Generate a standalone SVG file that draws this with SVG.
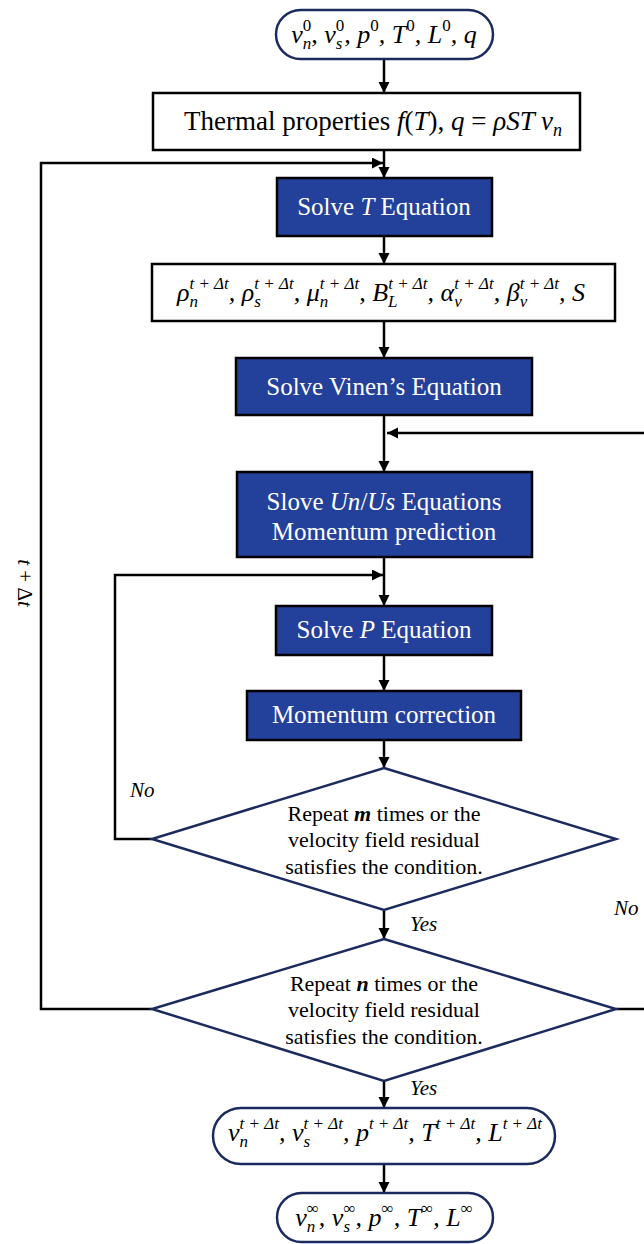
<svg xmlns="http://www.w3.org/2000/svg" width="644" height="1244" viewBox="0 0 644 1244">
<style>
.term{fill:#fff;stroke:#1c2b5e;stroke-width:2.5}
.wbox{fill:#fff;stroke:#000;stroke-width:2.5}
.bbox{fill:#23409a;stroke:#000;stroke-width:2.5}
.dia{fill:#fff;stroke:#1c2b5e;stroke-width:2.5}
.con{fill:none;stroke:#000;stroke-width:2.5}
.m{font-family:"Liberation Serif","DejaVu Serif",serif;font-style:italic;font-size:26px;fill:#000}
.sc{font-size:17px}
.up{font-style:normal}
.bt{font-family:"Liberation Serif","DejaVu Serif",serif;font-size:25px;fill:#fff}
.wt{font-family:"Liberation Serif","DejaVu Serif",serif;font-size:27px;fill:#000}
.dt{font-family:"Liberation Serif","DejaVu Serif",serif;font-size:22px;fill:#000}
.i{font-style:italic}
.lbl{font-family:"Liberation Serif","DejaVu Serif",serif;font-style:italic;font-size:21px;fill:#000}
</style>
<defs>
<marker id="ah" markerUnits="userSpaceOnUse" markerWidth="12" markerHeight="12" refX="11" refY="5.5" orient="auto">
<path d="M0,0 L11,5.5 L0,11 z" fill="#000"/>
</marker>
</defs>

<g id="connectors">
<path class="con" d="M384,60 V93" marker-end="url(#ah)"/>
<path class="con" d="M384,150 V178" marker-end="url(#ah)"/>
<path class="con" d="M384,236 V264" marker-end="url(#ah)"/>
<path class="con" d="M384,321 V358" marker-end="url(#ah)"/>
<path class="con" d="M384,415 V472" marker-end="url(#ah)"/>
<path class="con" d="M384,557 V606" marker-end="url(#ah)"/>
<path class="con" d="M384,655 V691" marker-end="url(#ah)"/>
<path class="con" d="M384,740 V768" marker-end="url(#ah)"/>
<path class="con" d="M384,910 V939" marker-end="url(#ah)"/>
<path class="con" d="M384,1081 V1108" marker-end="url(#ah)"/>
<path class="con" d="M384,1164 V1193" marker-end="url(#ah)"/>
<path class="con" d="M152,839 H115 V575 H383" marker-end="url(#ah)"/>
<path class="con" d="M152,1009 H41 V163 H383" marker-end="url(#ah)"/>
<path class="con" d="M616,1009 H660 V433 H387" marker-end="url(#ah)"/>
<text class="lbl" x="130" y="797">No</text>
<text class="lbl" x="614" y="915">No</text>
<text class="lbl" x="410" y="931">Yes</text>
<text class="lbl" x="410" y="1095">Yes</text>
<text class="lbl" text-anchor="middle" transform="translate(18,583) rotate(90)">t <tspan class="up">+ Δ</tspan>t</text>
</g>

<g id="start">
<rect class="term" x="276" y="10" width="217" height="49" rx="24.5"/>
<text class="m" x="384" y="43" text-anchor="middle">v<tspan class="sc" dy="6">n</tspan><tspan class="sc up" dx="-8.5" dy="-18">0</tspan><tspan dy="12">, v</tspan><tspan class="sc" dy="6">s</tspan><tspan class="sc up" dx="-6.6" dy="-18">0</tspan><tspan dy="12">, p</tspan><tspan class="sc up" dy="-12">0</tspan><tspan dy="12">, T</tspan><tspan class="sc up" dy="-12">0</tspan><tspan dy="12">, L</tspan><tspan class="sc up" dy="-12">0</tspan><tspan dy="12">, q</tspan></text>
</g>

<g id="thermal">
<rect class="wbox" x="153" y="93" width="427" height="57"/>
<text class="wt" x="373" y="130" text-anchor="middle">Thermal properties <tspan class="i">f</tspan>(<tspan class="i">T</tspan>), <tspan class="i">q</tspan> = <tspan class="i">ρST v</tspan><tspan class="i" font-size="18" dy="6">n</tspan></text>
</g>

<g id="solveT">
<rect class="bbox" x="277" y="178" width="215" height="58"/>
<text class="bt" x="384" y="215" text-anchor="middle">Solve <tspan class="i">T</tspan> Equation</text>
</g>

<g id="props">
<rect class="wbox" x="152" y="264" width="463" height="57"/>
<text class="m" x="381" y="301" text-anchor="middle">ρ<tspan class="sc" dy="6">n</tspan><tspan class="sc" dx="-8.5" dy="-18">t + Δt</tspan><tspan dy="12">, ρ</tspan><tspan class="sc" dy="6">s</tspan><tspan class="sc" dx="-6.6" dy="-18">t + Δt</tspan><tspan dy="12">, μ</tspan><tspan class="sc" dy="6">n</tspan><tspan class="sc" dx="-8.5" dy="-18">t + Δt</tspan><tspan dy="12">, B</tspan><tspan class="sc" dy="6">L</tspan><tspan class="sc" dx="-9.4" dy="-18">t + Δt</tspan><tspan dy="12">, α</tspan><tspan class="sc" dy="6">v</tspan><tspan class="sc" dx="-7.5" dy="-18">t + Δt</tspan><tspan dy="12">, β</tspan><tspan class="sc" dy="6">v</tspan><tspan class="sc" dx="-7.5" dy="-18">t + Δt</tspan><tspan dy="12">, S</tspan></text>
</g>

<g id="vinen">
<rect class="bbox" x="236" y="358" width="296" height="57"/>
<text class="bt" x="384" y="395" text-anchor="middle">Solve Vinen’s Equation</text>
</g>

<g id="unus">
<rect class="bbox" x="237" y="472" width="295" height="85"/>
<text class="bt" x="384" y="510" text-anchor="middle">Slove <tspan class="i">Un</tspan>/<tspan class="i">Us</tspan> Equations</text>
<text class="bt" x="384" y="540" text-anchor="middle">Momentum prediction</text>
</g>

<g id="solveP">
<rect class="bbox" x="276" y="606" width="216" height="49"/>
<text class="bt" x="384" y="638" text-anchor="middle">Solve <tspan class="i">P</tspan> Equation</text>
</g>

<g id="correction">
<rect class="bbox" x="247" y="691" width="274" height="49"/>
<text class="bt" x="384" y="723" text-anchor="middle">Momentum correction</text>
</g>

<g id="decision-m">
<polygon class="dia" points="384,768 616,839 384,910 152,839"/>
<text class="dt" x="384" y="821" text-anchor="middle">Repeat <tspan font-weight="bold" font-style="italic">m</tspan> times or the</text>
<text class="dt" x="384" y="847" text-anchor="middle">velocity field residual</text>
<text class="dt" x="384" y="874" text-anchor="middle">satisfies the condition.</text>
</g>

<g id="decision-n">
<polygon class="dia" points="384,939 616,1009 384,1081 152,1009"/>
<text class="dt" x="384" y="991" text-anchor="middle">Repeat <tspan font-weight="bold" font-style="italic">n</tspan> times or the</text>
<text class="dt" x="384" y="1017" text-anchor="middle">velocity field residual</text>
<text class="dt" x="384" y="1044" text-anchor="middle">satisfies the condition.</text>
</g>

<g id="step-result">
<rect class="term" x="213" y="1108" width="342" height="56" rx="28"/>
<text class="m" x="385" y="1141" text-anchor="middle">v<tspan class="sc" dy="6">n</tspan><tspan class="sc" dx="-8.5" dy="-18">t + Δt</tspan><tspan dy="12">, v</tspan><tspan class="sc" dy="6">s</tspan><tspan class="sc" dx="-6.6" dy="-18">t + Δt</tspan><tspan dy="12">, p</tspan><tspan class="sc" dy="-12">t + Δt</tspan><tspan dy="12">, T</tspan><tspan class="sc" dy="-12">t + Δt</tspan><tspan dy="12">, L</tspan><tspan class="sc" dy="-12">t + Δt</tspan></text>
</g>

<g id="final">
<rect class="term" x="277" y="1193" width="216" height="49" rx="24.5"/>
<text class="m" x="384" y="1226" text-anchor="middle">v<tspan class="sc" dy="6">n</tspan><tspan class="sc up" dx="-8.5" dy="-18">∞</tspan><tspan dy="12">, v</tspan><tspan class="sc" dy="6">s</tspan><tspan class="sc up" dx="-6.6" dy="-18">∞</tspan><tspan dy="12">, p</tspan><tspan class="sc up" dy="-12">∞</tspan><tspan dy="12">, T</tspan><tspan class="sc up" dy="-12">∞</tspan><tspan dy="12">, L</tspan><tspan class="sc up" dy="-12">∞</tspan></text>
</g>
</svg>
